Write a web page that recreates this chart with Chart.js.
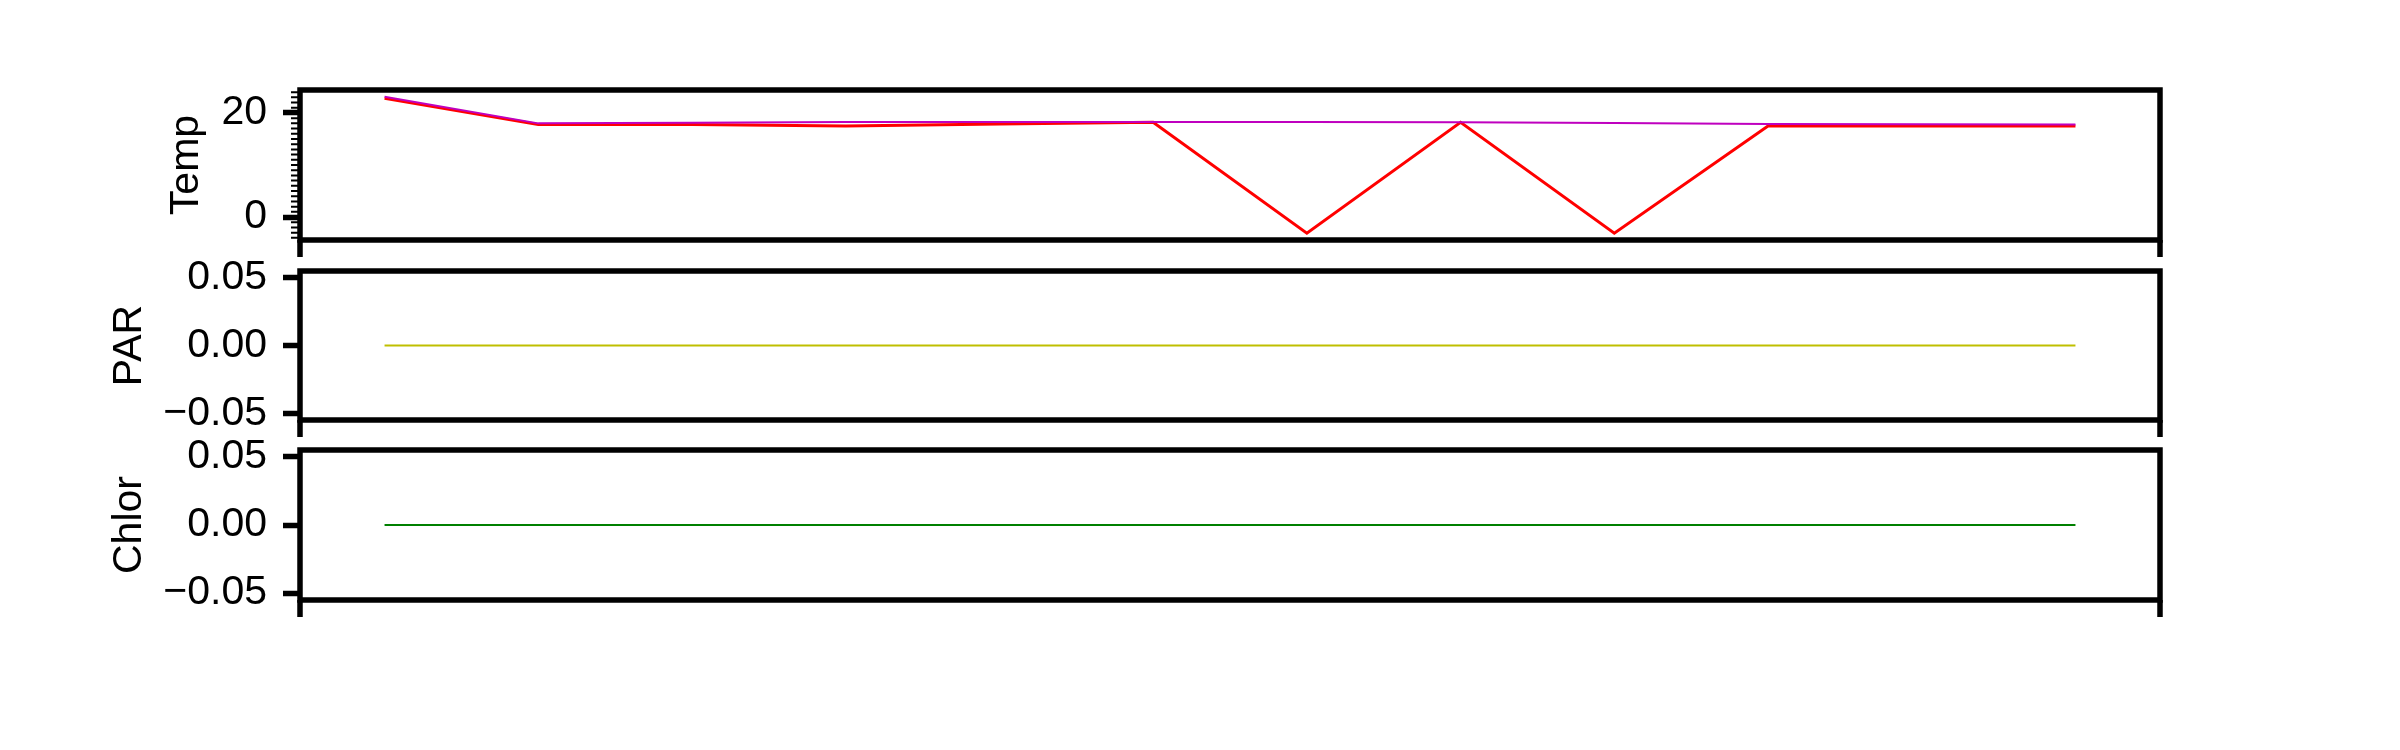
<!DOCTYPE html>
<html><head><meta charset="utf-8">
<script src="https://cdn.jsdelivr.net/npm/chart.js@4.4.1/dist/chart.umd.min.js"></script>
<style>
html,body{margin:0;padding:0;background:#fff;overflow:hidden;}
#wrap{position:relative;width:2400px;height:750px;background:#fff;}
#wrap canvas{position:absolute;left:0;top:0;}
</style></head><body>
<div id="wrap">
<canvas id="cTemp" width="2400" height="750"></canvas>
<canvas id="cPar" width="2400" height="750"></canvas>
<canvas id="cChlor" width="2400" height="750"></canvas>
</div>
<script>
// ---- data ----
const sampleIndex = [0, 1, 2, 3, 4, 5, 6, 7, 8, 9, 10, 11];
const tempRed     = [22.8, 17.8, 17.8, 17.5, 17.9, 18.2, -3.1, 18.2, -3.1, 17.5, 17.5, 17.5];
const tempMagenta = [23.1, 18.0, 18.1, 18.25, 18.25, 18.25, 18.25, 18.2, 18.05, 17.9, 17.85, 17.8];
const parValues   = [0, 0, 0, 0, 0, 0, 0, 0, 0, 0, 0, 0];
const chlorValues = [0, 0, 0, 0, 0, 0, 0, 0, 0, 0, 0, 0];
const tempTicks  = [0, 20];
const parTicks   = [-0.05, 0, 0.05];
const chlorTicks = [-0.05, 0, 0.05];
const panelTitles = ['Temp', 'PAR', 'Chlor'];

Chart.defaults.font.family = "'Liberation Sans', Arial, sans-serif";
Chart.defaults.color = '#000';
const FS = 41;

function pts(vals) { return sampleIndex.map((x, i) => ({x: x, y: vals[i]})); }
function padRange(vals, frac) {
  const lo = Math.min(...vals), hi = Math.max(...vals);
  const p = (hi - lo) * frac;
  return [lo - p, hi + p];
}
const xRange = padRange(sampleIndex, 0.05);

const framePlugin = {
  id: 'frame',
  afterDatasetsDraw(chart, args, opts) {
    const ctx = chart.ctx, a = chart.chartArea, ys = chart.scales.y;
    ctx.save();
    ctx.strokeStyle = '#000';
    if (opts.minor) {
      ctx.lineWidth = 2;
      ctx.beginPath();
      for (let v = Math.ceil(ys.min); v <= Math.floor(ys.max); v++) {
        const y = ys.getPixelForValue(v);
        ctx.moveTo(a.left, y); ctx.lineTo(a.left - 9, y);
      }
      ctx.stroke();
    }
    ctx.lineWidth = 5.5;
    ctx.beginPath();
    [a.left, a.right].forEach(x => { ctx.moveTo(x, a.bottom); ctx.lineTo(x, a.bottom + 17); });
    ctx.stroke();
    ctx.strokeRect(a.left, a.top, a.right - a.left, a.bottom - a.top);
    ctx.restore();
  }
};

function makePanel(id, datasets, yRange, tickVals, title, titlePad, top, bottom, minor, fmt) {
  new Chart(document.getElementById(id), {
    type: 'line',
    data: { datasets: datasets },
    options: {
      responsive: false,
      animation: false,
      layout: { padding: { left: 0, right: 240, top: top, bottom: 750 - bottom } },
      plugins: { legend: { display: false }, tooltip: { enabled: false }, frame: { minor: minor } },
      elements: { point: { radius: 0 }, line: { tension: 0 } },
      scales: {
        x: { type: 'linear', display: false, min: xRange[0], max: xRange[1] },
        y: {
          type: 'linear', position: 'left', min: yRange[0], max: yRange[1],
          afterBuildTicks: s => { s.ticks = tickVals.map(v => ({ value: v })); },
          afterFit: s => { s.width = 300; },
          border: { display: false },
          grid: { display: true, drawOnChartArea: false, drawTicks: true, tickLength: 17, tickWidth: 5.5, tickColor: '#000' },
          ticks: { padding: 16, font: { size: FS }, color: '#000', autoSkip: false, callback: v => fmt(v) },
          title: { display: true, text: title, font: { size: FS }, color: '#000', padding: { top: titlePad, bottom: 0 } }
        }
      }
    },
    plugins: [framePlugin]
  });
}

const intFmt = v => String(Math.round(v)).replace('-', '\u2212');
const decFmt = v => (Math.abs(v) < 1e-9 ? 0 : v).toFixed(2).replace('-', '\u2212');

makePanel('cTemp', [
  { data: pts(tempMagenta), borderColor: '#bf00bf', borderWidth: 2 },
  { data: pts(tempRed), borderColor: '#ff0000', borderWidth: 3 }
], padRange(tempRed.concat(tempMagenta), 0.05), tempTicks, panelTitles[0], 162, 90, 240, true, intFmt);

makePanel('cPar', [
  { data: pts(parValues), borderColor: '#bfbf00', borderWidth: 2.2 }
], [-0.055, 0.055], parTicks, panelTitles[1], 105, 271, 420, false, decFmt);

makePanel('cChlor', [
  { data: pts(chlorValues), borderColor: '#008000', borderWidth: 2.2 }
], [-0.055, 0.055], chlorTicks, panelTitles[2], 105, 450, 600, false, decFmt);
</script>
</body></html>
